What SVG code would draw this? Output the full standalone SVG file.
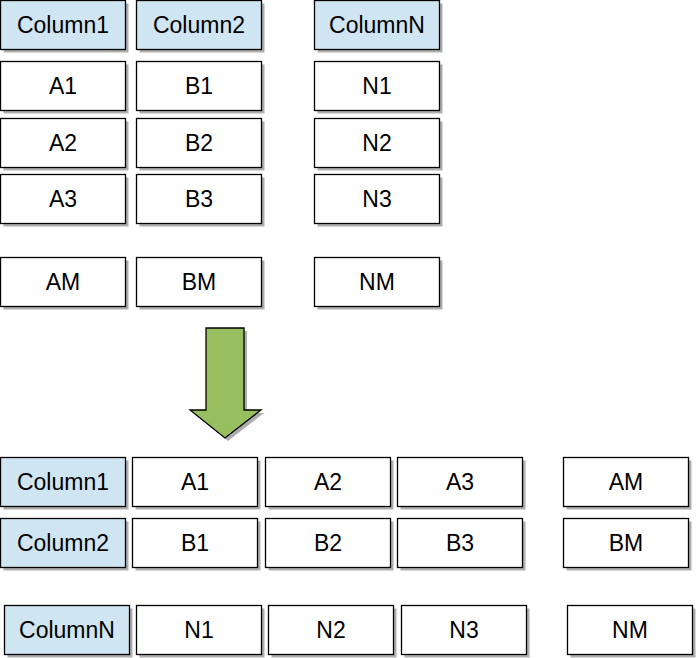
<svg xmlns="http://www.w3.org/2000/svg" width="696" height="658" viewBox="0 0 696 658">
<style>
.sh{fill:#9a9a9a;opacity:0.8}
.b{fill:#ffffff;stroke:#000000;stroke-width:1.3}
.h{fill:#d0e5f2;stroke:#000000;stroke-width:1.3}
text{font-family:"Liberation Sans",Arial,sans-serif;font-size:23px;fill:#000000;text-anchor:middle}
</style>
<defs>
<symbol id="s"><rect x="3" y="3" width="125" height="49" class="sh"/></symbol>
</defs>
<rect width="696" height="658" fill="#ffffff"/>
<!-- top table -->
<g id="t-col1"><rect x="3.5" y="3.5" width="125" height="49" class="sh"/><rect x="0.5" y="0.5" width="125" height="49" class="h"/><text x="63" y="33">Column1</text></g>
<g id="t-col2"><rect x="139.5" y="3.5" width="125" height="49" class="sh"/><rect x="136.5" y="0.5" width="125" height="49" class="h"/><text x="199" y="33">Column2</text></g>
<g id="t-colN"><rect x="317.5" y="3.5" width="125" height="49" class="sh"/><rect x="314.5" y="0.5" width="125" height="49" class="h"/><text x="377" y="33">ColumnN</text></g>

<g id="t-A1"><rect x="3.5" y="64.5" width="125" height="49" class="sh"/><rect x="0.5" y="61.5" width="125" height="49" class="b"/><text x="63" y="94">A1</text></g>
<g id="t-B1"><rect x="139.5" y="64.5" width="125" height="49" class="sh"/><rect x="136.5" y="61.5" width="125" height="49" class="b"/><text x="199" y="94">B1</text></g>
<g id="t-N1"><rect x="317.5" y="64.5" width="125" height="49" class="sh"/><rect x="314.5" y="61.5" width="125" height="49" class="b"/><text x="377" y="94">N1</text></g>

<g id="t-A2"><rect x="3.5" y="121.5" width="125" height="49" class="sh"/><rect x="0.5" y="118.5" width="125" height="49" class="b"/><text x="63" y="151">A2</text></g>
<g id="t-B2"><rect x="139.5" y="121.5" width="125" height="49" class="sh"/><rect x="136.5" y="118.5" width="125" height="49" class="b"/><text x="199" y="151">B2</text></g>
<g id="t-N2"><rect x="317.5" y="121.5" width="125" height="49" class="sh"/><rect x="314.5" y="118.5" width="125" height="49" class="b"/><text x="377" y="151">N2</text></g>

<g id="t-A3"><rect x="3.5" y="177.5" width="125" height="49" class="sh"/><rect x="0.5" y="174.5" width="125" height="49" class="b"/><text x="63" y="207">A3</text></g>
<g id="t-B3"><rect x="139.5" y="177.5" width="125" height="49" class="sh"/><rect x="136.5" y="174.5" width="125" height="49" class="b"/><text x="199" y="207">B3</text></g>
<g id="t-N3"><rect x="317.5" y="177.5" width="125" height="49" class="sh"/><rect x="314.5" y="174.5" width="125" height="49" class="b"/><text x="377" y="207">N3</text></g>

<g id="t-AM"><rect x="3.5" y="260.5" width="125" height="49" class="sh"/><rect x="0.5" y="257.5" width="125" height="49" class="b"/><text x="63" y="290">AM</text></g>
<g id="t-BM"><rect x="139.5" y="260.5" width="125" height="49" class="sh"/><rect x="136.5" y="257.5" width="125" height="49" class="b"/><text x="199" y="290">BM</text></g>
<g id="t-NM"><rect x="317.5" y="260.5" width="125" height="49" class="sh"/><rect x="314.5" y="257.5" width="125" height="49" class="b"/><text x="377" y="290">NM</text></g>

<!-- arrow -->
<g id="arrow">
<polygon points="209,331 247,331 247,413 264,413 228,441 193,413 209,413" class="sh"/>
<polygon points="206,328 244,328 244,410 261,410 225,438 190,410 206,410" fill="#97bf5f" stroke="#000000" stroke-width="1.3"/>
</g>

<!-- bottom table -->
<g id="b-col1"><rect x="3.5" y="460.5" width="125" height="49" class="sh"/><rect x="0.5" y="457.5" width="125" height="49" class="h"/><text x="63" y="490">Column1</text></g>
<g id="b-A1"><rect x="135.5" y="460.5" width="125" height="49" class="sh"/><rect x="132.5" y="457.5" width="125" height="49" class="b"/><text x="195" y="490">A1</text></g>
<g id="b-A2"><rect x="268.5" y="460.5" width="125" height="49" class="sh"/><rect x="265.5" y="457.5" width="125" height="49" class="b"/><text x="328" y="490">A2</text></g>
<g id="b-A3"><rect x="400.5" y="460.5" width="125" height="49" class="sh"/><rect x="397.5" y="457.5" width="125" height="49" class="b"/><text x="460" y="490">A3</text></g>
<g id="b-AM"><rect x="566.5" y="460.5" width="125" height="49" class="sh"/><rect x="563.5" y="457.5" width="125" height="49" class="b"/><text x="626" y="490">AM</text></g>

<g id="b-col2"><rect x="3.5" y="521.5" width="125" height="49" class="sh"/><rect x="0.5" y="518.5" width="125" height="49" class="h"/><text x="63" y="551">Column2</text></g>
<g id="b-B1"><rect x="135.5" y="521.5" width="125" height="49" class="sh"/><rect x="132.5" y="518.5" width="125" height="49" class="b"/><text x="195" y="551">B1</text></g>
<g id="b-B2"><rect x="268.5" y="521.5" width="125" height="49" class="sh"/><rect x="265.5" y="518.5" width="125" height="49" class="b"/><text x="328" y="551">B2</text></g>
<g id="b-B3"><rect x="400.5" y="521.5" width="125" height="49" class="sh"/><rect x="397.5" y="518.5" width="125" height="49" class="b"/><text x="460" y="551">B3</text></g>
<g id="b-BM"><rect x="566.5" y="521.5" width="125" height="49" class="sh"/><rect x="563.5" y="518.5" width="125" height="49" class="b"/><text x="626" y="551">BM</text></g>

<g id="b-colN"><rect x="7.5" y="608.5" width="125" height="49" class="sh"/><rect x="4.5" y="605.5" width="125" height="49" class="h"/><text x="67" y="638">ColumnN</text></g>
<g id="b-N1"><rect x="139.5" y="608.5" width="125" height="49" class="sh"/><rect x="136.5" y="605.5" width="125" height="49" class="b"/><text x="199" y="638">N1</text></g>
<g id="b-N2"><rect x="271.5" y="608.5" width="125" height="49" class="sh"/><rect x="268.5" y="605.5" width="125" height="49" class="b"/><text x="331" y="638">N2</text></g>
<g id="b-N3"><rect x="404.5" y="608.5" width="125" height="49" class="sh"/><rect x="401.5" y="605.5" width="125" height="49" class="b"/><text x="464" y="638">N3</text></g>
<g id="b-NM"><rect x="570.5" y="608.5" width="125" height="49" class="sh"/><rect x="567.5" y="605.5" width="125" height="49" class="b"/><text x="630" y="638">NM</text></g>
</svg>
